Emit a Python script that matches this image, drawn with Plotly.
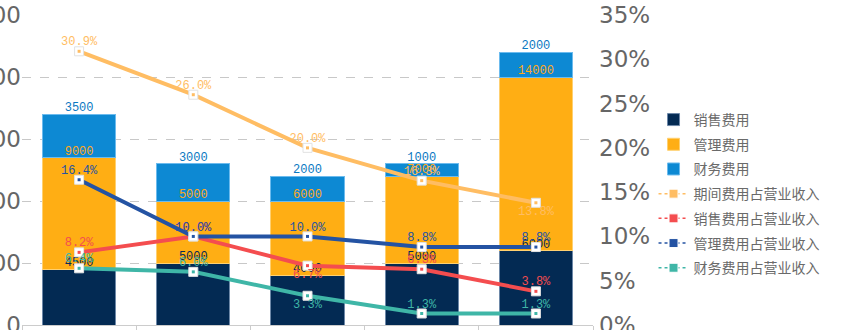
import plotly.graph_objects as go

# Expense data per period
categories = ["2015", "2016", "2017", "2018", "2019"]
sales_exp = [4500, 5000, 4000, 5000, 6000]
admin_exp = [9000, 5000, 6000, 7000, 14000]
fin_exp = [3500, 3000, 2000, 1000, 2000]

# Expense ratios to operating revenue (%)
period_ratio = [30.9, 26.0, 20.0, 16.3, 13.8]
sales_ratio = [8.2, 10.0, 6.7, 6.3, 3.8]
admin_ratio = [16.4, 10.0, 10.0, 8.8, 8.8]
fin_ratio = [6.4, 6.0, 3.3, 1.3, 1.3]

bar_series = [
    ("销售费用", sales_exp, "#032a53", "#6d88a8", "#0a2a55"),
    ("管理费用", admin_exp, "#ffae14", "#ffd070", "#ffa81a"),
    ("财务费用", fin_exp, "#0d89d3", "#6cbbee", "#0a78c2"),
]

line_series = [
    ("期间费用占营业收入", period_ratio, "#ffbd63",
     ["top center", "top center", "top center", "top center", "bottom center"]),
    ("销售费用占营业收入", sales_ratio, "#f44d4f",
     ["top center", "top center", "bottom center", "top center", "top center"]),
    ("管理费用占营业收入", admin_ratio, "#2453a3",
     ["top center"] * 5),
    ("财务费用占营业收入", fin_ratio, "#3fb6a7",
     ["top center", "top center", "bottom center", "top center", "top center"]),
]

LABEL_FONT = "Liberation Mono"
AXIS_FONT = "DejaVu Sans"

fig = go.Figure()

# Stacked bars
for name, vals, color, edge, _ in bar_series:
    fig.add_trace(go.Bar(
        x=categories, y=vals, name=name, legendgroup=name,
        marker=dict(color=color, line=dict(color=edge, width=1)),
        yaxis="y", hoverinfo="skip",
    ))

# Bar value labels sitting on top of each stacked segment
cum = [0] * len(categories)
for name, vals, color, edge, txtcolor in bar_series:
    cum = [c + v for c, v in zip(cum, vals)]
    fig.add_trace(go.Scatter(
        x=categories, y=cum, mode="text",
        text=[str(v) for v in vals], textposition="top center",
        textfont=dict(family=LABEL_FONT, size=12, color=txtcolor),
        showlegend=False, hoverinfo="skip", yaxis="y",
    ))

# Ratio lines on the secondary axis
for name, vals, color, positions in line_series:
    frac = [v / 100 for v in vals]
    fig.add_trace(go.Scatter(
        x=categories, y=frac, mode="lines", name=name,
        line=dict(color=color, width=4),
        showlegend=False, hoverinfo="skip", yaxis="y2",
    ))
    # white square markers with a small coloured centre
    fig.add_trace(go.Scatter(
        x=categories, y=frac, mode="markers",
        marker=dict(symbol="square", size=9, color="white",
                    line=dict(color="#e2e2e2", width=1)),
        showlegend=False, hoverinfo="skip", yaxis="y2",
    ))
    fig.add_trace(go.Scatter(
        x=categories, y=frac, mode="markers+text",
        marker=dict(symbol="square", size=3, color=color),
        text=[f"{v:.1f}%" for v in vals], textposition=positions,
        textfont=dict(family=LABEL_FONT, size=12, color=color),
        showlegend=False, hoverinfo="skip", yaxis="y2",
    ))

# Legend entries for the ratio lines
for name, vals, color, positions in line_series:
    fig.add_trace(go.Scatter(
        x=[None], y=[None], mode="lines+markers", name=name, legendgroup=name,
        line=dict(color=color, width=1.5, dash="dot"),
        marker=dict(symbol="square", size=9, color=color,
                    line=dict(color="white", width=1)),
        yaxis="y2",
    ))

fig.update_layout(
    width=866, height=330,
    margin=dict(l=22, r=273, t=15, b=5),
    paper_bgcolor="white", plot_bgcolor="white",
    barmode="stack", bargap=0.36,
    showlegend=True,
    legend=dict(
        x=1.106, y=0.713, xanchor="left", yanchor="top",
        traceorder="grouped",
        font=dict(family="Noto Sans CJK SC", size=14, color="#6a6a6a"),
        bgcolor="rgba(0,0,0,0)", tracegroupgap=3.5, itemsizing="trace",
    ),
    xaxis=dict(
        type="category", showgrid=False,
        showline=True, linecolor="#cccccc", linewidth=1,
        ticks="outside", tickson="boundaries", ticklen=5, tickcolor="#cccccc",
        showticklabels=False, automargin=False,
    ),
    yaxis=dict(
        range=[0, 25000], dtick=5000, tickformat="d",
        showgrid=True, gridcolor="#c8c8c8", griddash="dash", gridwidth=1,
        zeroline=False, showline=False, ticks="",
        tickfont=dict(family=AXIS_FONT, size=23, color="#666666"),
        automargin=False, ticklabeloverflow="allow",
    ),
    yaxis2=dict(
        range=[0, 0.35], dtick=0.05, tickformat=".0%",
        overlaying="y", side="right",
        showgrid=False, zeroline=False, showline=False, ticks="",
        tickfont=dict(family=AXIS_FONT, size=23, color="#666666"),
        automargin=False, ticklabeloverflow="allow", ticklabelstandoff=5,
    ),
)

fig.write_html("out.html")
